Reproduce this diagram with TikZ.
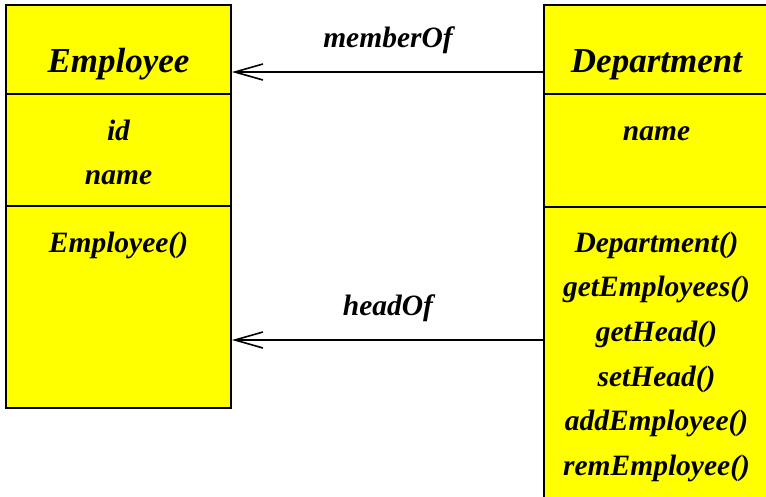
\documentclass[tikz,border=0pt]{standalone}
\usepackage{fontspec}
\setmainfont{Liberation Serif}
\usetikzlibrary{positioning, arrows.meta}
\definecolor{umlFill}{HTML}{ffff00}

\begin{document}
\begin{tikzpicture}[x=1pt, y=-1pt,
  part/.style={draw=black, line width=1.5pt, fill=umlFill, minimum width=225pt, inner sep=0pt, outer sep=0pt, anchor=north west},
  ttl/.style={font=\fontsize{35}{40}\selectfont\bfseries\itshape, inner sep=0pt, anchor=base},
  lbl/.style={font=\fontsize{29.5}{44}\selectfont\bfseries\itshape, inner sep=0pt, anchor=base},
  assoc/.style={-{Straight Barb[length=28pt, width=16pt]}, line width=1.6pt, shorten >=1pt}]
\useasboundingbox (0,0) rectangle (766,496);
\clip (0,0) rectangle (766,496);
% Employee class
\node[part, minimum height=89pt] (emphead) at (6,5) {};
\node[part, minimum height=112pt] (empattr) at (emphead.south west) {};
\node[part, minimum height=202pt] (empops) at (empattr.south west) {};
\node[ttl] (empname) at (118.5,72) {Employee};
\node[lbl] (empid) at (118.5,140) {id};
\node[lbl] (empnm) at (118.5,184) {name};
\node[lbl] (empctor) at (118.5,252) {Employee()};
% Department class
\node[part, minimum height=89pt] (depthead) at (544,5) {};
\node[part, minimum height=113pt] (deptattr) at (depthead.south west) {};
\node[part, minimum height=313pt] (deptops) at (deptattr.south west) {};
\node[ttl] (deptname) at (656.5,72) {Department};
\node[lbl] (deptnm) at (656.5,140) {name};
\node[lbl] (op1) at (656.5,252) {Department()};
\node[lbl] (op2) at (656.5,296.7) {getEmployees()};
\node[lbl] (op3) at (656.5,341.4) {getHead()};
\node[lbl] (op4) at (656.5,386.1) {setHead()};
\node[lbl] (op5) at (656.5,430.8) {addEmployee()};
\node[lbl] (op6) at (656.5,475.5) {remEmployee()};
% associations
\node[lbl] (memberlbl) at (388,47) {memberOf};
\node[lbl] (headlbl) at (388,315) {headOf};
\draw[assoc] ([yshift=-22.5pt]depthead.west) -- ([yshift=-22.5pt]emphead.east);
\draw[assoc] (deptops.west |- 0,340) -- (empops.east |- 0,340);
\end{tikzpicture}
\end{document}
